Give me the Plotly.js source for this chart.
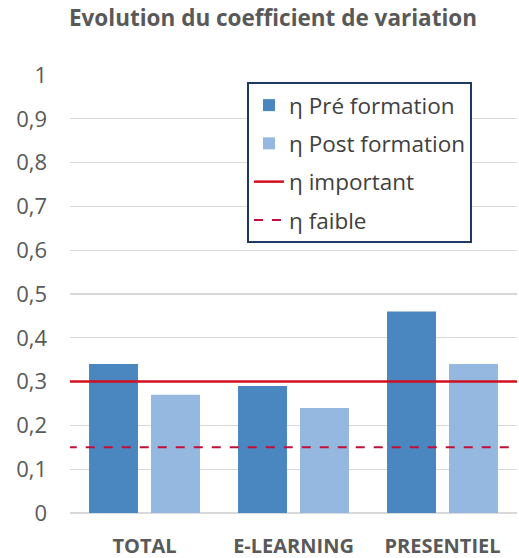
<!DOCTYPE html>
<html>
<head>
<meta charset="utf-8">
<script src="https://cdn.plot.ly/plotly-3.0.1.min.js"></script>
<style>html,body{margin:0;padding:0;background:#fff;}#chart{width:519px;height:558px;}</style>
</head>
<body>
<div id="chart"></div>
<script>
const categories = ["TOTAL", "E-LEARNING", "PRESENTIEL"];
const preFormation = [0.34, 0.29, 0.46];
const postFormation = [0.27, 0.24, 0.34];
const etaImportant = 0.3;
const etaFaible = 0.15;
const seriesNames = ["η Pré formation", "η Post formation", "η important", "η faible"];

const font = "Open Sans, Liberation Sans, sans-serif";
const traces = [
  {type: "bar", x: categories, y: preFormation, name: seriesNames[0],
   marker: {color: "#4a86c0"}, legendgroup: "a", hoverinfo: "none"},
  {type: "bar", x: categories, y: postFormation, name: seriesNames[1],
   marker: {color: "#95b8e0"}, legendgroup: "b", hoverinfo: "none"},
  {type: "scatter", mode: "lines", x: [0, 1], y: [etaImportant, etaImportant], xaxis: "x2",
   name: seriesNames[2], line: {color: "#d01020", width: 2.5}, legendgroup: "c", hoverinfo: "none"},
  {type: "scatter", mode: "lines", x: [0, 1], y: [etaFaible, etaFaible], xaxis: "x2",
   name: seriesNames[3], line: {color: "#c0103a", width: 2, dash: "dash"}, legendgroup: "d", hoverinfo: "none"}
];

const layout = {
  width: 519, height: 558,
  margin: {l: 70, r: 2, t: 75, b: 45},
  paper_bgcolor: "#fff", plot_bgcolor: "#fff",
  separators: ", ",
  font: {family: font, color: "#595959"},
  title: {text: "<b>Evolution du coefficient de variation</b>", x: 0.526, xanchor: "center",
          y: 0.967, yanchor: "middle", font: {size: 22.5, color: "#595959", family: font}},
  barmode: "group", bargap: 0.168, bargroupgap: 0.21,
  xaxis: {tickfont: {size: 20, color: "#595959", family: font},
          tickprefix: "<b>", ticksuffix: "</b>", showgrid: false, showline: false,
          ticks: "", ticklabelstandoff: 19, fixedrange: true},
  xaxis2: {overlaying: "x", range: [0.005, 1], visible: false, fixedrange: true},
  yaxis: {range: [0, 1], dtick: 0.1, tickfont: {size: 22, color: "#595959", family: font},
          gridcolor: "#d9d9d9", gridwidth: 1.2, zeroline: true, zerolinecolor: "#d9d9d9",
          zerolinewidth: 1.2, showline: false, ticks: "", ticklabelstandoff: 22, fixedrange: true},
  legend: {x: 0.396, y: 0.984, xanchor: "left", yanchor: "top",
           bordercolor: "#1f3864", borderwidth: 2, bgcolor: "#fff",
           font: {size: 22.5, color: "#404040", family: font},
           traceorder: "grouped", tracegroupgap: 6, itemwidth: 30},
  showlegend: true
};

Plotly.newPlot("chart", traces, layout, {displayModeBar: false, staticPlot: true});
</script>
</body>
</html>
